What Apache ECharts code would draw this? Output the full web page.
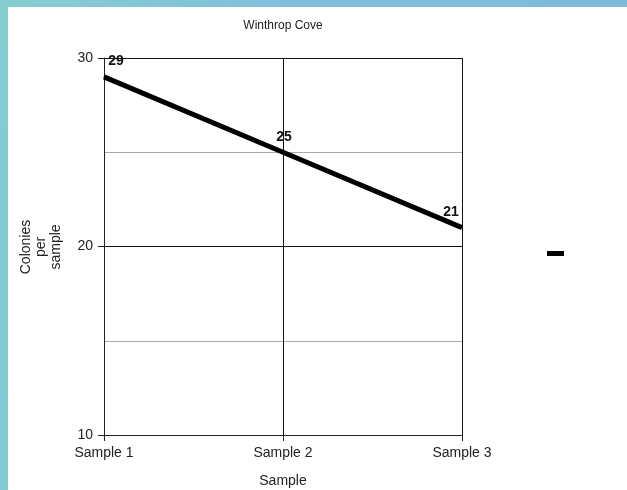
<!DOCTYPE html>
<html>
<head>
<meta charset="utf-8">
<script src="https://cdn.jsdelivr.net/npm/echarts@6/dist/echarts.min.js"></script>
<style>
  html, body { margin: 0; padding: 0; }
  body {
    width: 627px; height: 490px;
    background: linear-gradient(100deg, #86cdd0 0%, #7ec0dc 40%, #7fb9da 100%);
  }
  #chart {
    position: absolute; left: 8px; top: 7px;
    width: 619px; height: 483px; background: #ffffff;
  }
</style>
</head>
<body>
<div id="chart"></div>
<script>
// Colony counts at Winthrop Cove
const categories = ['Sample 1', 'Sample 2', 'Sample 3'];
const colonies = [29, 25, 21];
const yTicks = { min: 10, max: 30, step: 10 };

const chart = echarts.init(document.getElementById('chart'), null, { renderer: 'canvas' });
const font = 'Liberation Sans, Arial, sans-serif';
const ox = 8, oy = 7; // offset of the white panel in the page

chart.setOption({
  animation: false,
  backgroundColor: '#ffffff',
  textStyle: { fontFamily: font },
  legend: {
    left: 534 - ox + 8, top: 239 - oy + 7,
    itemWidth: 17, itemHeight: 5,
    data: [{ name: ' ', icon: 'rect' }],
    textStyle: { fontSize: 1, color: '#fff' }
  },
  grid: {
    left: 104 - ox, top: 58 - oy, right: 627 - 462, bottom: 490 - 435,
    containLabel: false, outerBoundsMode: 'none'
  },
  xAxis: {
    type: 'category',
    data: categories,
    boundaryGap: false,
    name: 'Sample',
    nameLocation: 'middle',
    nameGap: 39,
    nameTextStyle: { fontFamily: font, fontSize: 14, color: '#222' },
    axisLine: { lineStyle: { color: '#222', width: 1 } },
    axisTick: { show: true, length: 6, lineStyle: { color: '#222' } },
    axisLabel: { fontFamily: font, fontSize: 14, color: '#222', margin: 11 },
    splitLine: { show: true, lineStyle: { color: '#111', width: 1 } }
  },
  yAxis: {
    type: 'value',
    min: yTicks.min, max: yTicks.max, interval: yTicks.step,
    axisLine: { show: true, lineStyle: { color: '#222', width: 1 } },
    axisTick: { show: true, length: 6, lineStyle: { color: '#222' } },
    axisLabel: { fontFamily: font, fontSize: 14, color: '#222', margin: 11 },
    splitLine: { show: true, lineStyle: { color: '#111', width: 1 } },
    minorTick: { show: false, splitNumber: 2 },
    minorSplitLine: { show: true, lineStyle: { color: '#aaaaaa', width: 1 } }
  },
  graphic: [{
    type: 'text',
    x: 283 - ox, y: 26 - oy,
    style: {
      text: 'Winthrop Cove',
      fontFamily: font, fontSize: 12, fill: '#222',
      align: 'center', verticalAlign: 'middle'
    }
  }, {
    type: 'text',
    x: 41 - ox, y: 247 - oy,
    rotation: Math.PI / 2,
    style: {
      text: 'Colonies\nper\nsample',
      fontFamily: font, fontSize: 14, fill: '#222',
      align: 'center', verticalAlign: 'middle', lineHeight: 15
    }
  }],
  series: [{
    name: ' ',
    type: 'line',
    data: colonies.map((v, i) => ({
      value: v,
      label: { offset: i === 0 ? [12, 0] : (i === colonies.length - 1 ? [-11, 0] : [1, 0]) }
    })),
    showSymbol: true,
    symbol: 'circle',
    symbolSize: 1,
    color: '#000',
    lineStyle: { color: '#000', width: 5 },
    label: {
      show: true, position: 'top', distance: 8,
      fontFamily: font, fontSize: 14, fontWeight: 'bold', color: '#111'
    }
  }]
});
</script>
</body>
</html>
